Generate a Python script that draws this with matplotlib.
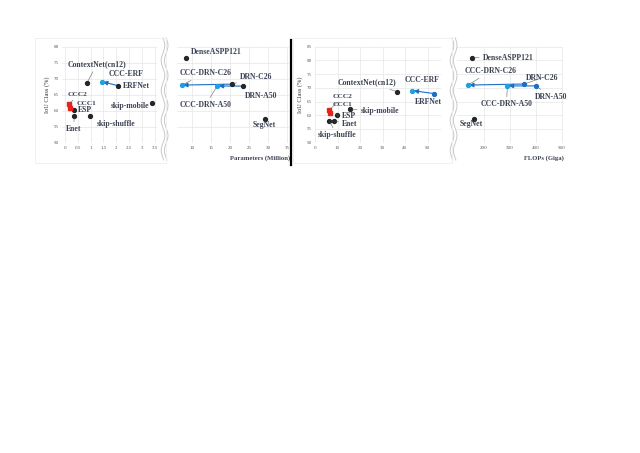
import numpy as np
import matplotlib
matplotlib.use("Agg")
import matplotlib.pyplot as plt
from matplotlib.lines import Line2D

# --- data -----------------------------------------------------------------
# plain models, small-size subplot
small_models = ["ContextNet(cn12)", "ERFNet", "ESP", "Enet", "skip-shuffle", "skip-mobile"]
params_small = [0.86, 2.08, 0.36, 0.36, 0.99, 3.39]
iou_p_small = [68.7, 67.8, 60.1, 58.3, 58.3, 62.3]
flops_small = [36.6, 53.0, 9.6, 8.4, 6.2, 15.6]
iou_f_small = [68.6, 67.9, 60.1, 58.0, 58.0, 62.3]

# plain models, large-size subplot
big_models = ["DenseASPP121", "DRN-C26", "DRN-A50", "SegNet"]
params_big = [8.3, 20.4, 23.3, 29.2]
iou_p_big = [76.6, 68.3, 67.7, 57.5]
flops_big = [155, 356, 400, 162]
iou_f_big = [81.0, 71.4, 70.7, 58.6]

# CCC models (red pair)
ccc_models = ["CCC1", "CCC2"]
params_ccc = [0.20, 0.17]
iou_p_ccc = [60.9, 62.0]
flops_ccc = [6.7, 6.4]
iou_f_ccc = [60.7, 61.9]

# CCC variants of existing networks
ccc_erf_params, ccc_erf_iou_p = 1.43, 69.1
ccc_erf_flops, ccc_erf_iou_f = 43.2, 69.0
ccc_drn = ["CCC-DRN-C26", "CCC-DRN-A50"]
params_ccc_drn = [7.2, 16.6]
iou_p_ccc_drn = [68.0, 67.7]
flops_ccc_drn = [137, 290]
iou_f_ccc_drn = [71.0, 70.7]

# label positions (data coords of the text's left/centre) and leader flag
lab_p_small = {"ContextNet(cn12)": (0.10, 74.5, True), "CCC-ERF": (1.72, 71.5, False),
               "ERFNet": (2.25, 67.7, False), "CCC2": (0.12, 65.1, True),
               "CCC1": (0.47, 62.3, False), "ESP": (0.50, 60.2, False),
               "Enet": (0.04, 54.2, True), "skip-shuffle": (1.24, 55.8, False),
               "skip-mobile": (1.80, 61.6, False)}
lab_p_big = {"DenseASPP121": (9.6, 78.2, False), "CCC-DRN-C26": (6.6, 71.7, True),
             "DRN-C26": (22.6, 70.4, True), "DRN-A50": (23.9, 64.7, False),
             "CCC-DRN-A50": (6.6, 61.8, True), "SegNet": (26.0, 55.5, False)}
lab_f_small = {"ContextNet(cn12)": (10.2, 72.0, True), "CCC-ERF": (40.0, 72.9, False),
               "ERFNet": (44.4, 65.0, True), "CCC2": (8.0, 66.9, True),
               "CCC1": (8.0, 64.0, False), "ESP": (11.9, 59.8, True),
               "Enet": (11.9, 56.8, True), "skip-shuffle": (1.3, 52.8, True),
               "skip-mobile": (20.3, 61.6, True)}
lab_f_big = {"DenseASPP121": (195, 80.8, True), "CCC-DRN-C26": (127, 76.1, True),
             "DRN-C26": (362, 73.7, True), "DRN-A50": (397, 66.8, True),
             "CCC-DRN-A50": (187, 64.0, True), "SegNet": (107, 56.7, False)}

W, H = 640, 453
plt.rcParams["font.family"] = ["Liberation Serif", "DejaVu Serif"]
TXT = "#3e4454"
BLUE = "#1fa0e2"
DBLUE = "#1a6fc4"
RED = "#e8231c"
DOT = "#262626"


def box(l, r, t, b):
    return [l / W, 1 - b / H, (r - l) / W, (b - t) / H]


def setup(ax, xlim, ylim, xticks, yticks, show_y):
    ax.set_xlim(*xlim)
    ax.set_ylim(*ylim)
    ax.set_xticks(xticks)
    ax.set_xticklabels([f"{t:g}" for t in xticks])
    ax.set_yticks(yticks)
    ax.set_yticklabels([f"{t:g}" for t in yticks] if show_y else [])
    ax.grid(color="#e6e6e6", lw=0.5)
    ax.set_axisbelow(True)
    for s in ax.spines.values():
        s.set_visible(False)
    ax.tick_params(length=0, labelsize=3.6, colors="#555555", pad=2.5)


def label(ax, name, pos, xy, size=5.6):
    tx, ty, leader = pos
    props = dict(arrowstyle="-", lw=0.4, color="#666666", shrinkA=0.5, shrinkB=1.5) if leader else None
    ax.annotate(name, xy=xy, xytext=(tx, ty), ha="left", va="center", fontsize=size,
                fontweight="bold", color=TXT, annotation_clip=False, arrowprops=props, zorder=6)


def arrow(ax, base, target):
    ax.annotate("", xy=target, xytext=base, annotation_clip=False,
                arrowprops=dict(arrowstyle="-|>,head_length=0.25,head_width=0.13",
                                color=DBLUE, lw=0.8, shrinkA=0, shrinkB=1.2), zorder=4)


fig = plt.figure(figsize=(6.4, 4.53), dpi=100)

# ---------------- panel 1: parameters ----------------
a1 = fig.add_axes(box(62.4, 157.2, 46.7, 142.7))
setup(a1, (-0.1, 3.6), (50, 80), [0, 0.5, 1, 1.5, 2, 2.5, 3, 3.5], range(50, 81, 5), True)
b1 = fig.add_axes(box(177.1, 289.0, 46.7, 142.7))
setup(b1, (6, 35.5), (50, 80), [10, 15, 20, 25, 30, 35], range(50, 81, 5), False)

# ---------------- panel 2: FLOPs ----------------
a2 = fig.add_axes(box(315, 441, 46.7, 142.7))
setup(a2, (0, 56), (50, 85), [0, 10, 20, 30, 40, 50], range(50, 86, 5), True)
b2 = fig.add_axes(box(456.8, 563, 46.7, 142.7))
setup(b2, (95, 505), (50, 85), [200, 300, 400, 500], range(50, 86, 5), False)

panels = [
    (a1, b1, params_small, iou_p_small, params_big, iou_p_big, params_ccc, iou_p_ccc,
     (ccc_erf_params, ccc_erf_iou_p), params_ccc_drn, iou_p_ccc_drn, lab_p_small, lab_p_big, DOT),
    (a2, b2, flops_small, iou_f_small, flops_big, iou_f_big, flops_ccc, iou_f_ccc,
     (ccc_erf_flops, ccc_erf_iou_f), flops_ccc_drn, iou_f_ccc_drn, lab_f_small, lab_f_big, DBLUE),
]

for (ax, bx, xs, ys, xb, yb, xc, yc, erf_ccc, xd, yd, ls, lb, pair_col) in panels:
    # plain models
    for name, x, y in zip(small_models, xs, ys):
        col = pair_col if name == "ERFNet" else DOT
        ax.plot(x, y, "o", ms=2.8, color=col, zorder=5)
        label(ax, name, ls[name], (x, y))
    for name, x, y in zip(big_models, xb, yb):
        col = pair_col if name.startswith("DRN") else DOT
        bx.plot(x, y, "o", ms=2.8, color=col, zorder=5)
        label(bx, name, lb[name], (x, y))
    # CCC red pair
    ax.plot(xc, yc, "-s", color=RED, ms=2.6, lw=1.2, zorder=5)
    for name, x, y in zip(ccc_models, xc, yc):
        label(ax, name, ls[name], (x, y), size=5.3)
    # CCC-ERF
    erf = (xs[small_models.index("ERFNet")], ys[small_models.index("ERFNet")])
    arrow(ax, erf, erf_ccc)
    ax.plot(*erf_ccc, "o", ms=2.8, color=BLUE, zorder=5)
    label(ax, "CCC-ERF", ls["CCC-ERF"], erf_ccc)
    # CCC-DRN
    for name, x, y in zip(ccc_drn, xd, yd):
        base_name = name.replace("CCC-", "")
        i = big_models.index(base_name)
        arrow(bx, (xb[i], yb[i]), (x, y))
        bx.plot(x, y, "o", ms=2.8, color=BLUE, zorder=5)
        label(bx, name, lb[name], (x, y))

# axis titles
for px in (47, 300):
    fig.text(px / W, 1 - 95 / H, "IoU Class (%)", rotation=90, ha="center", va="center",
             fontsize=4.6, color="#333333")
fig.text(260 / W, 1 - 157.7 / H, "Parameters (Million)", ha="center", va="center",
         fontsize=4.8, fontweight="bold", color=TXT)
fig.text(544 / W, 1 - 157.7 / H, "FLOPs (Giga)", ha="center", va="center",
         fontsize=4.8, fontweight="bold", color=TXT)

# broken-axis wavy marks
yy = np.linspace(38, 160, 200)
for x0 in (163, 452):
    for off in (0, 3.2):
        xx = x0 + off + 1.8 * np.sin(2 * np.pi * (yy - 38) / 30)
        fig.add_artist(Line2D(xx / W, 1 - yy / H, color="#c9c9c9", lw=0.7))

# faint frames around left regions
for l, r in ((35, 166), (293, 452)):
    fig.add_artist(Line2D(np.array([l, r, r, l, l]) / W, 1 - np.array([38, 38, 163, 163, 38]) / H,
                          color="#eeeeee", lw=0.6))

# separator between the two panels
fig.add_artist(Line2D([291 / W, 291 / W], [1 - 40 / H, 1 - 165 / H], color="black", lw=1.6))

fig.savefig("out.png", dpi=100)
